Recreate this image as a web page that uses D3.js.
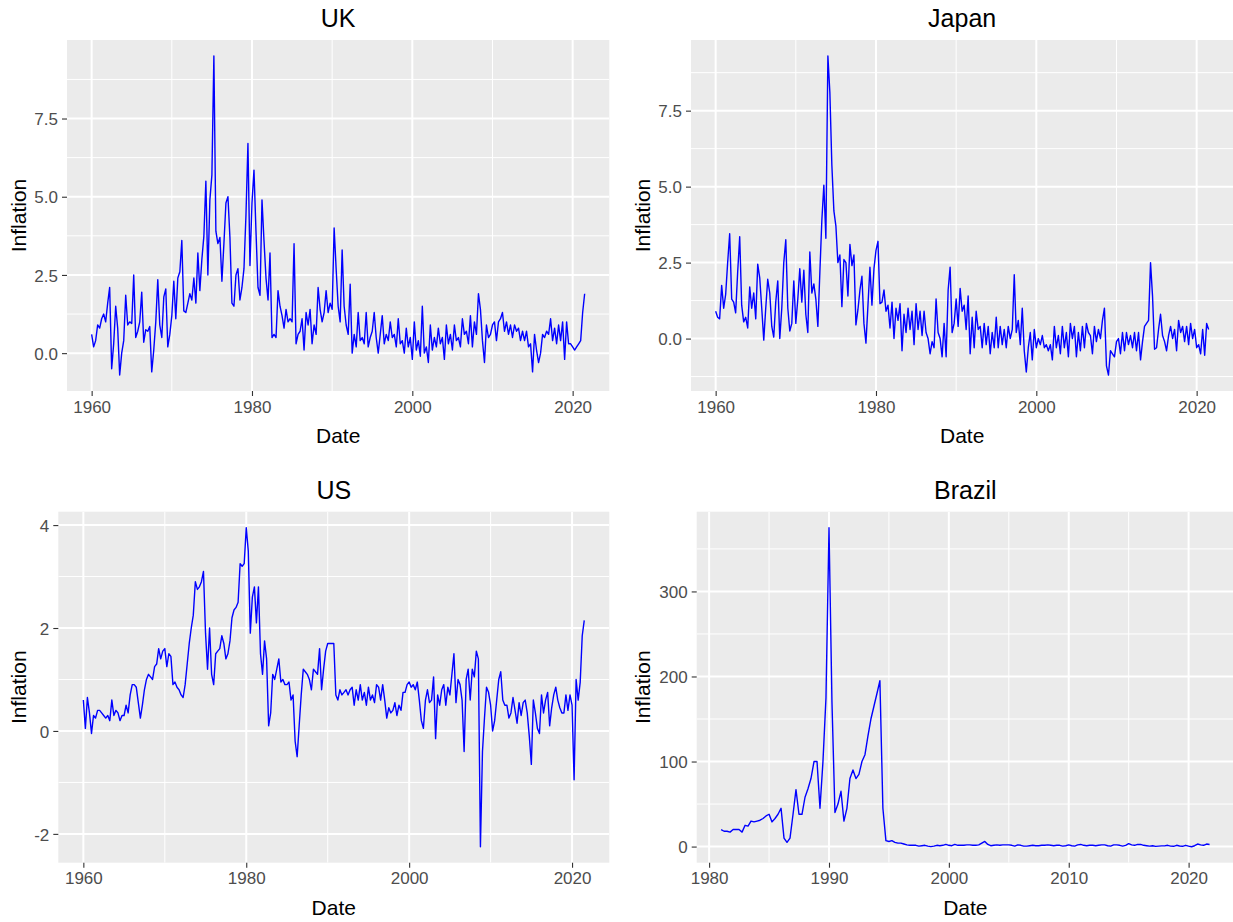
<!DOCTYPE html>
<html>
<head>
<meta charset="utf-8">
<script src="https://cdn.jsdelivr.net/npm/d3@7"></script>
<style>
  body { margin: 0; background: #ffffff; }
  text { font-family: "Liberation Sans", Arial, sans-serif; }
</style>
</head>
<body>
<svg id="chart" width="1233" height="922"></svg>
<script>
// Quarterly consumer price inflation (% change on previous quarter)

// UK, 1960 Q1 - 2021 Q3
const ukInflation = [
  0.6, 0.2, 0.4, 0.9,   0.8, 1.1, 1.25, 1.0,   1.6, 2.1, -0.5, 0.3,   1.5, 0.8, -0.7, 0.0,
  0.4, 1.85, 0.9, 1.0,  0.95, 2.5, 0.5, 0.7,   1.0, 1.95, 0.35, 0.75, 0.7, 0.85, -0.6, 0.1,
  1.0, 2.35, 0.9, 0.5,  1.8, 2.05, 0.2, 0.6,   1.2, 2.3, 1.1, 2.4,    2.6, 3.6, 1.35, 1.3,
  1.6, 1.9, 1.7, 2.4,   1.6, 3.2, 2.0, 3.0,    3.75, 5.5, 2.5, 4.9,   5.7, 9.5, 3.9, 3.5,
  3.7, 2.3, 3.5, 4.8,   5.0, 3.7, 1.6, 1.5,    2.5, 2.7, 1.7, 2.1,    2.7, 4.4, 6.7, 2.8,
  4.8, 5.85, 3.9, 2.1,  1.85, 4.9, 3.6, 2.4,   1.7, 3.2, 0.5, 0.6,    0.5, 2.0, 1.5, 1.2,
  0.8, 1.4, 1.0, 1.1,   1.0, 3.5, 0.3, 0.6,    0.7, 1.1, 0.1, 1.3,    0.9, 1.4, 0.3, 0.9,
  0.6, 2.1, 1.4, 1.0,   1.3, 2.0, 1.3, 1.6,    1.4, 4.0, 2.7, 1.5,    1.0, 3.3, 1.5, 0.9,
  0.6, 2.2, 0.0, 0.6,   0.2, 1.3, 0.4, 0.5,    0.3, 1.3, 0.2, 0.5,    0.7, 1.3, 0.5, 0.0,
  0.6, 1.2, 0.3, 0.6,   0.4, 1.0, 0.5, 0.6,    0.2, 1.1, 0.3, 0.4,    0.0, 0.8, 0.2, 0.5,
  -0.2, 1.0, 0.1, 0.4,  -0.1, 1.5, 0.0, 0.2,   -0.3, 0.9, 0.1, 0.5,   0.2, 0.8, 0.3, 0.5,
  -0.2, 0.9, 0.3, 0.6,  0.1, 0.9, 0.4, 0.5,    0.2, 1.1, 0.6, 0.7,    0.3, 1.2, 0.2, 1.0,
  0.6, 1.9, 1.4, 0.4,   -0.3, 0.9, 0.5, 0.6,   0.9, 1.0, 0.4, 1.0,    1.1, 1.3, 0.7, 1.0,
  0.6, 0.9, 0.5, 0.9,   0.7, 0.8, 0.4, 0.7,    0.4, 0.7, 0.2, 0.3,    -0.6, 0.6, 0.1, -0.3,
  0.0, 0.6, 0.5, 0.7,   0.6, 1.1, 0.4, 0.8,    0.3, 0.9, 0.4, 1.0,    -0.2, 1.0, 0.3, 0.3,
  0.2, 0.1, 0.2, 0.3,   0.4, 1.3, 1.9
];

// Japan, 1960 Q1 - 2021 Q3
const japanInflation = [
  0.9, 0.7, 0.65, 1.75,  1.0, 1.45, 2.5, 3.45,  1.3, 1.2, 0.85, 2.2,   3.35, 1.1, 0.55, 0.7,
  0.35, 1.7, 1.0, 1.5,   0.65, 2.45, 2.0, 1.0,  -0.05, 1.0, 1.95, 1.5, 0.4, 0.05, 1.2, 1.9,
  0.0, 1.0, 2.5, 3.25,   1.0, 0.25, 0.5, 1.9,   0.5, 1.3, 2.3, 1.2,    2.25, 0.8, 0.2, 2.85,
  1.5, 1.8, 1.3, 0.4,    2.2, 3.9, 5.05, 3.3,   9.3, 8.1, 5.7, 4.2,    3.7, 2.5, 2.75, 1.05,
  2.6, 2.5, 1.4, 3.1,    2.4, 2.75, 0.45, 0.95, 1.6, 2.05, 0.5, -0.15, 1.1, 2.35, 1.1, 2.3,
  2.9, 3.2, 1.15, 1.2,   1.6, 0.9, 1.1, 0.35,   1.2, 0.0, 1.0, 0.6,    1.15, -0.4, 0.8, 0.2,
  1.0, 0.3, 0.9, -0.2,   1.15, 0.3, 0.9, 0.1,   0.9, 0.2, 0.0, -0.5,   -0.1, -0.3, 1.3, 0.2,
  0.0, -0.6, 0.5, -0.6,  1.6, 2.35, 0.2, 0.5,   1.3, 0.4, 1.65, 0.9,   1.1, 0.3, 1.4, -0.5,
  0.7, -0.3, 0.9, 0.3,   0.4, -0.3, 0.5, -0.2,  0.4, -0.5, 0.2, -0.3,  0.7, -0.3, 0.4, -0.2,
  0.3, -0.3, 0.4, 0.0,   0.3, 2.1, 0.2, 0.6,    -0.2, 1.0, -0.4, -1.1, -0.3, 0.2, -0.7, 0.3,
  -0.3, 0.0, -0.2, 0.1,  -0.3, -0.2, -0.4, -0.2, -0.7, 0.4, -0.3, 0.1, -0.5, 0.4, -0.3, 0.2,
  -0.6, 0.5, 0.0, 0.4,   -0.6, 0.2, -0.4, 0.4,  -0.3, 0.5, 0.2, 0.1,   -0.5, 0.4, -0.1, 0.3,
  0.0, 0.6, 1.0, -0.9,   -1.2, -0.4, -0.5, -0.6, -0.1, 0.0, -0.5, 0.2, -0.4, 0.2, -0.2, 0.1,
  -0.3, 0.2, -0.4, 0.2,  -0.7, -0.1, 0.4, 0.5,  0.6, 2.5, 1.4, -0.35,  -0.3, 0.3, 0.8, 0.1,
  -0.1, -0.4, 0.1, 0.4,  0.0, 0.3, -0.4, 0.6,   0.2, 0.4, -0.1, 0.4,   -0.2, 0.5, 0.0, 0.3,
  -0.3, -0.2, -0.5, 0.3, -0.55, 0.5, 0.3
];

// US, 1960 Q1 - 2021 Q3
const usInflation = [
  0.6, 0.05, 0.65, 0.35,  -0.05, 0.3, 0.25, 0.4,  0.4, 0.35, 0.3, 0.25,  0.3, 0.2, 0.6, 0.3,
  0.4, 0.35, 0.2, 0.3,    0.3, 0.5, 0.35, 0.7,    0.9, 0.9, 0.85, 0.55,  0.25, 0.5, 0.8, 1.0,
  1.1, 1.05, 1.0, 1.25,   1.3, 1.6, 1.4, 1.55,    1.6, 1.25, 1.5, 1.45,  0.9, 0.95, 0.85, 0.8,
  0.7, 0.65, 0.9, 1.3,    1.7, 2.0, 2.25, 2.9,    2.75, 2.8, 2.9, 3.1,   1.9, 1.2, 2.0, 1.1,
  0.9, 1.5, 1.55, 1.6,    1.85, 1.7, 1.4, 1.5,    1.75, 2.2, 2.35, 2.4,  2.5, 3.25, 3.2, 3.25,
  3.95, 3.5, 1.9, 2.6,    2.8, 2.1, 2.8, 1.5,     1.1, 1.75, 1.4, 0.1,   0.35, 1.1, 1.0, 1.2,
  1.4, 0.95, 1.0, 0.9,    0.9, 0.95, 0.6, 0.7,    -0.2, -0.5, 0.1, 0.7,  1.2, 1.15, 1.1, 1.0,
  0.8, 1.2, 1.15, 1.1,    1.6, 0.8, 1.2, 1.55,    1.7, 1.7, 1.7, 1.7,    0.7, 0.6, 0.8, 0.7,
  0.75, 0.8, 0.7, 0.8,    0.85, 0.5, 0.8, 0.6,    0.9, 0.6, 0.75, 0.5,   0.85, 0.6, 0.7, 0.55,
  0.9, 0.85, 0.6, 0.9,    0.6, 0.25, 0.45, 0.35,  0.4, 0.55, 0.3, 0.5,   0.4, 0.75, 0.75, 0.9,
  0.95, 0.85, 0.9, 0.8,   0.95, 0.6, 0.2, 0.05,   0.6, 0.8, 0.55, 0.6,   1.05, -0.15, 0.7, 0.5,
  0.8, 0.9, 0.5, 0.85,    0.7, 1.1, 1.5, 0.55,    1.0, 0.9, 0.6, -0.4,   1.0, 1.2, 0.6, 1.2,
  1.05, 1.55, 1.4, -2.25, -0.4, 0.25, 0.85, 0.75, 0.5, 0.0, 0.2, 0.6,    1.0, 1.15, 0.6, 0.5,
  0.5, 0.25, 0.35, 0.65,  0.4, 0.15, 0.55, 0.3,   0.55, 0.6, 0.35, -0.1, -0.65, 0.6, 0.35, 0.05,
  -0.05, 0.7, 0.35, 0.6,  0.75, 0.1, 0.45, 0.7,   0.85, 0.6, 0.45, 0.35, 0.35, 0.7, 0.4, 0.7,
  0.5, -0.95, 1.0, 0.6,   0.95, 1.85, 2.15
];

// Brazil, 1981 Q1 - 2021 Q4
const brazilInflation = [
  20, 18, 18, 17,    20, 20, 20, 17,    25, 24, 30, 29,    30, 31, 33, 36,
  38, 29, 33, 38,    45, 10, 5, 10,     38, 67, 38, 38,    58, 68, 80, 100,
  100, 45, 100, 175, 375, 170, 40, 50,  65, 30, 45, 80,    90, 80, 85, 100,
  108, 130, 150, 165, 180, 195, 45, 7,  6, 7, 5, 4,        4, 3, 2, 1.5,
  1.5, 1.5, 0.5, 1,  1.5, 0.5, 0, 0.5,  1.5, 1, 1.5, 2.5,  1.5, 1, 2.5, 1.5,
  1.5, 1.5, 2, 2,    1.5, 1.5, 2, 4,    6, 2.5, 1, 1.5,    2, 1.5, 2, 2,
  2, 1.5, 0.5, 2,    1.5, 0.5, 0.5, 1,  1.5, 1, 1, 1.5,    1.5, 2, 1.5, 1,
  1.5, 1.5, 0.5, 1,  2, 1, 0.5, 2,      2.5, 1.5, 1, 1.5,  1.5, 1, 1.5, 2,
  2, 1, 0.5, 2,      2, 1.5, 0.5, 1.5,  3.5, 2, 1.5, 2.5,  2.5, 1.5, 1, 0.5,
  1, 0.2, 0.5, 0.8,  0.8, 1.5, 0.5, 0.3, 1.5, 0.7, 0.3, 1.5, 0.5, -0.2, 1, 3,
  2, 1.5, 3, 2.5
];

// First quarter of each series: [year, quarter index]
const ukStart = [1960, 0];
const japanStart = [1960, 0];
const usStart = [1960, 0];
const brazilStart = [1981, 0];

// Axis breaks
const ukYTicks = [0, 2.5, 5, 7.5];
const japanYTicks = [0, 2.5, 5, 7.5];
const usYTicks = [-2, 0, 2, 4];
const brazilYTicks = [0, 100, 200, 300];
const longXTicks = [1960, 1980, 2000, 2020];
const brazilXTicks = [1980, 1990, 2000, 2010, 2020];

// tick label formats with a plain hyphen for negatives
const fmtOneDecimal = v => d3.format(".1f")(v).replace("\u2212", "-");
const fmtInteger = v => d3.format("d")(v).replace("\u2212", "-");

// Panel layout
const panels = [
  { title: "UK", values: ukInflation, start: ukStart, yTicks: ukYTicks, yFmt: fmtOneDecimal,
    xTicks: longXTicks, box: { left: 67, right: 609.3, top: 40, bottom: 391 }, row: 0 },
  { title: "Japan", values: japanInflation, start: japanStart, yTicks: japanYTicks, yFmt: fmtOneDecimal,
    xTicks: longXTicks, box: { left: 691, right: 1233.3, top: 40, bottom: 391 }, row: 0 },
  { title: "US", values: usInflation, start: usStart, yTicks: usYTicks, yFmt: fmtInteger,
    xTicks: longXTicks, box: { left: 58.3, right: 609.3, top: 511.7, bottom: 862.7 }, row: 1 },
  { title: "Brazil", values: brazilInflation, start: brazilStart, yTicks: brazilYTicks, yFmt: fmtInteger,
    xTicks: brazilXTicks, box: { left: 696.7, right: 1234, top: 511.7, bottom: 862.7 }, row: 1 }
];

const svg = d3.select("#chart");
const tickColor = "#333333";
const tickTextColor = "#4D4D4D";

function yearDate(y) { return new Date(Date.UTC(y, 0, 1)); }

function expand(ext, frac) {
  const pad = (ext[1] - ext[0]) * frac;
  return [ext[0] - pad, ext[1] + pad];
}

panels.forEach(p => {
  const b = p.box;
  const data = p.values.map((v, i) => ({
    date: new Date(Date.UTC(p.start[0], p.start[1] * 3 + i * 3, 1)),
    value: v
  }));

  const xExt = d3.extent(data, d => d.date.getTime());
  const xDom = expand(xExt, 0.05).map(t => new Date(t));
  const x = d3.scaleUtc().domain(xDom).range([b.left, b.right]);
  const y = d3.scaleLinear().domain(expand(d3.extent(data, d => d.value), 0.05)).range([b.bottom, b.top]);

  const g = svg.append("g");
  const clipId = "clip-" + p.title;
  svg.append("clipPath").attr("id", clipId)
    .append("rect").attr("x", b.left).attr("y", b.top)
    .attr("width", b.right - b.left).attr("height", b.bottom - b.top);

  // panel background
  g.append("rect").attr("x", b.left).attr("y", b.top)
    .attr("width", b.right - b.left).attr("height", b.bottom - b.top)
    .attr("fill", "#EBEBEB");

  const grid = g.append("g").attr("clip-path", `url(#${clipId})`);

  // minor gridlines: midway between major breaks (and one step beyond)
  const xStep = p.xTicks[1] - p.xTicks[0];
  const xMinor = d3.range(p.xTicks[0] - xStep / 2, p.xTicks[p.xTicks.length - 1] + xStep, xStep);
  const yStep = p.yTicks[1] - p.yTicks[0];
  const yMinor = d3.range(p.yTicks[0] - yStep / 2, p.yTicks[p.yTicks.length - 1] + yStep, yStep);
  const [y0, y1] = y.domain();

  grid.selectAll(".xminor").data(xMinor.filter(v => yearDate(v) > xDom[0] && yearDate(v) < xDom[1]))
    .join("line")
    .attr("x1", d => x(yearDate(d))).attr("x2", d => x(yearDate(d)))
    .attr("y1", b.top).attr("y2", b.bottom)
    .attr("stroke", "#ffffff").attr("stroke-width", 1);
  grid.selectAll(".yminor").data(yMinor.filter(v => v > y0 && v < y1))
    .join("line")
    .attr("y1", d => y(d)).attr("y2", d => y(d))
    .attr("x1", b.left).attr("x2", b.right)
    .attr("stroke", "#ffffff").attr("stroke-width", 1);

  grid.selectAll(".xmajor").data(p.xTicks)
    .join("line")
    .attr("x1", d => x(yearDate(d))).attr("x2", d => x(yearDate(d)))
    .attr("y1", b.top).attr("y2", b.bottom)
    .attr("stroke", "#ffffff").attr("stroke-width", 2);
  grid.selectAll(".ymajor").data(p.yTicks)
    .join("line")
    .attr("y1", d => y(d)).attr("y2", d => y(d))
    .attr("x1", b.left).attr("x2", b.right)
    .attr("stroke", "#ffffff").attr("stroke-width", 2);

  // series line
  const line = d3.line().x(d => x(d.date)).y(d => y(d.value));
  g.append("path").datum(data)
    .attr("clip-path", `url(#${clipId})`)
    .attr("d", line)
    .attr("fill", "none")
    .attr("stroke", "#0000FF")
    .attr("stroke-width", 1.4)
    .attr("stroke-linejoin", "round");

  // x axis
  const xAxis = d3.axisBottom(x)
    .tickValues(p.xTicks.map(yearDate))
    .tickFormat(d3.utcFormat("%Y"))
    .tickSize(5).tickPadding(4);
  const xg = g.append("g").attr("transform", `translate(0,${b.bottom})`).call(xAxis);
  xg.select(".domain").remove();
  xg.selectAll(".tick line").attr("stroke", tickColor).attr("stroke-width", 1.1);
  xg.selectAll(".tick text").attr("fill", tickTextColor)
    .style("font-size", "17px").style("font-family", '"Liberation Sans", Arial, sans-serif')
    .attr("dy", "0.75em");

  // y axis
  const yAxis = d3.axisLeft(y).tickValues(p.yTicks).tickFormat(p.yFmt)
    .tickSize(5).tickPadding(4);
  const yg = g.append("g").attr("transform", `translate(${b.left},0)`).call(yAxis);
  yg.select(".domain").remove();
  yg.selectAll(".tick line").attr("stroke", tickColor).attr("stroke-width", 1.1);
  yg.selectAll(".tick text").attr("fill", tickTextColor)
    .style("font-size", "17px").style("font-family", '"Liberation Sans", Arial, sans-serif')
    .attr("dy", "0.36em");

  const cx = (b.left + b.right) / 2;
  const cy = (b.top + b.bottom) / 2;
  const rowOffset = p.row === 0 ? 0 : 471.7;

  // title
  g.append("text").attr("x", cx).attr("y", 27 + rowOffset)
    .attr("text-anchor", "middle").attr("fill", "#000000")
    .style("font-size", "25px").text(p.title);

  // axis titles
  g.append("text").attr("x", cx).attr("y", 443 + rowOffset)
    .attr("text-anchor", "middle").attr("fill", "#000000")
    .style("font-size", "21px").text("Date");

  const yTitleX = p.title === "UK" || p.title === "US" ? 25.5 : 649.5;
  g.append("text")
    .attr("transform", `translate(${yTitleX},${cy}) rotate(-90)`)
    .attr("text-anchor", "middle").attr("fill", "#000000")
    .style("font-size", "21px").text("Inflation");
});
</script>
</body>
</html>
